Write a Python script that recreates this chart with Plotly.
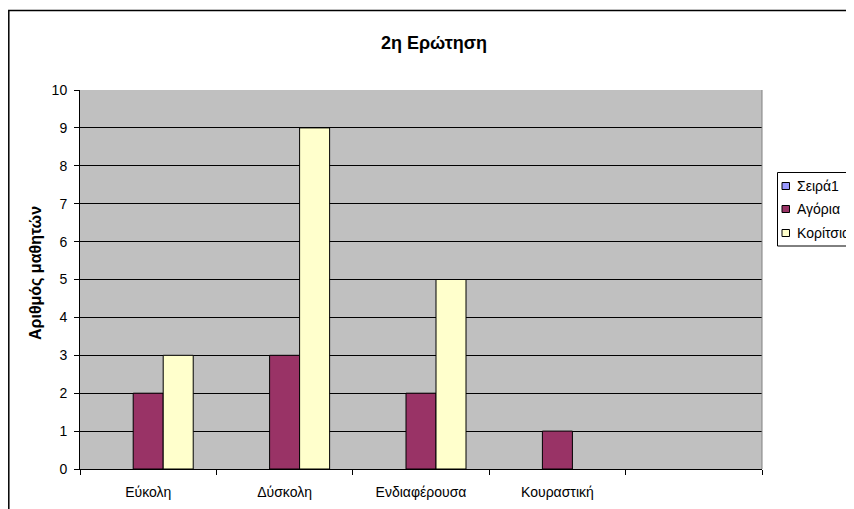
import plotly.graph_objects as go

categories = ["Εύκολη", "Δύσκολη", "Ενδιαφέρουσα", "Κουραστική", ""]
series_names = ["Σειρά1", "Αγόρια", "Κορίτσια"]
seira1 = [None, None, None, None, None]
agoria = [2, 3, 2, 1, None]
koritsia = [3, 9, 5, None, None]
y_ticks = [0, 1, 2, 3, 4, 5, 6, 7, 8, 9, 10]
title_text = "2η Ερώτηση"
y_title = "Αριθμός μαθητών"

colors = ["#9999FF", "#993366", "#FFFFCC"]
FONT = "Liberation Sans, Arial, sans-serif"

# page has an 8px body margin; work in screen pixels and shift
OFF = 8
W, H = 854 - OFF, 509 - OFF
L, R, T, B = 80 - OFF, 762 - OFF, 90 - OFF, 469 - OFF


def px_x(p):
    return (p - OFF - L) / (R - L)


def px_y(p):
    return (B - (p - OFF)) / (B - T)


xpos = list(range(len(categories)))
fig = go.Figure()
for name, vals, c in zip(series_names, [seira1, agoria, koritsia], colors):
    fig.add_trace(go.Bar(
        x=xpos, y=vals, name=name, showlegend=False,
        marker=dict(color=c, line=dict(color="#000000", width=1)),
    ))

shapes = [
    dict(type="rect", xref="paper", yref="paper",
         x0=px_x(8.8), x1=px_x(880), y0=px_y(540), y1=px_y(10.5),
         line=dict(color="black", width=1.5), layer="below"),
    dict(type="line", xref="paper", yref="paper",
         x0=1, x1=1, y0=0, y1=1,
         line=dict(color="#808080", width=1)),
    # legend box
    dict(type="rect", xref="paper", yref="paper",
         x0=px_x(777.5), x1=px_x(880), y0=px_y(246), y1=px_y(172.5),
         line=dict(color="black", width=1), fillcolor="white"),
]
annotations = [
    dict(text="<b>" + y_title + "</b>", textangle=-90,
         x=px_x(36), y=px_y(273), xref="paper", yref="paper",
         xanchor="center", yanchor="middle", showarrow=False,
         font=dict(family=FONT, size=16, color="black")),
]
legend_y = [186, 209, 233]
for name, c, ly in zip(series_names, colors, legend_y):
    shapes.append(dict(type="rect", xref="paper", yref="paper",
                       x0=px_x(782), x1=px_x(789.5),
                       y0=px_y(ly + 3.5), y1=px_y(ly - 3.5),
                       line=dict(color="black", width=1), fillcolor=c))
    annotations.append(dict(text=name, x=px_x(795), y=px_y(ly),
                            xref="paper", yref="paper",
                            xanchor="left", yanchor="middle", showarrow=False,
                            font=dict(family=FONT, size=14, color="black")))

fig.update_layout(
    width=W, height=H,
    margin=dict(l=L, r=W - R, t=T, b=H - B, autoexpand=False),
    paper_bgcolor="white",
    plot_bgcolor="#C0C0C0",
    barmode="group",
    bargap=0.34,
    bargroupgap=0,
    font=dict(family=FONT, size=14, color="black"),
    title=dict(text="<b>" + title_text + "</b>", x=(434 - OFF) / W, xanchor="center",
               y=1 - (43 - OFF) / H, yanchor="middle",
               font=dict(family=FONT, size=18, color="black")),
    showlegend=False,
    xaxis=dict(
        range=[-0.5, len(categories) - 0.5],
        tickmode="array", tickvals=xpos, ticktext=categories,
        ticks="outside", ticklen=10, tickcolor="rgba(0,0,0,0)",
        showgrid=False, zeroline=False,
        showline=True, linecolor="black", linewidth=1,
        tickfont=dict(family=FONT, size=14, color="black"),
        minor=dict(tickmode="array",
                   tickvals=[i - 0.5 for i in range(len(categories) + 1)],
                   ticks="outside", ticklen=5, tickcolor="black", tickwidth=1,
                   showgrid=False),
        fixedrange=True,
    ),
    yaxis=dict(
        range=[0, 10],
        tickmode="array", tickvals=y_ticks,
        ticks="outside", ticklen=5, tickcolor="black",
        ticklabelstandoff=4,
        showgrid=True, gridcolor="#000000", gridwidth=1,
        zeroline=False,
        showline=True, linecolor="black", linewidth=1,
        tickfont=dict(family=FONT, size=14, color="black"),
        fixedrange=True,
    ),
    annotations=annotations,
    shapes=shapes,
)

fig.write_html("out.html")
